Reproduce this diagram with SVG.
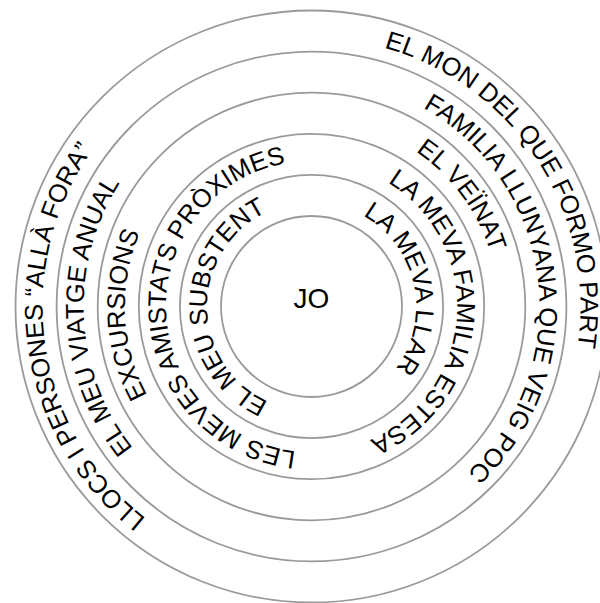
<svg xmlns="http://www.w3.org/2000/svg" xmlns:xlink="http://www.w3.org/1999/xlink" width="600" height="603" viewBox="0 0 600 603">
<style>
.ring{fill:none;stroke:#9a9a9a;stroke-width:1.8}
.lbl{font-family:"Liberation Sans",Arial,sans-serif;font-size:25.5px;fill:#000}
.jo{font-family:"Liberation Sans",Arial,sans-serif;font-size:28px;fill:#000}
</style>
<defs>
<path id="b1" d="M311.5,202 A104.5,104.5 0 1 1 311.5,411 A104.5,104.5 0 1 1 311.5,202"/>
<path id="b2" d="M311.5,160.9 A145.6,145.6 0 1 1 311.5,452.1 A145.6,145.6 0 1 1 311.5,160.9"/>
<path id="b3" d="M311.5,119.8 A186.7,186.7 0 1 1 311.5,493.2 A186.7,186.7 0 1 1 311.5,119.8"/>
<path id="b4" d="M311.5,78.7 A227.8,227.8 0 1 1 311.5,534.3 A227.8,227.8 0 1 1 311.5,78.7"/>
<path id="b5" d="M311.5,37.6 A268.9,268.9 0 1 1 311.5,575.4 A268.9,268.9 0 1 1 311.5,37.6"/>
</defs>
<g id="rings">
<circle class="ring" cx="311.5" cy="306.5" r="90.5"/>
<circle class="ring" cx="311.5" cy="306.5" r="131.6"/>
<circle class="ring" cx="311.5" cy="306.5" r="172.7"/>
<circle class="ring" cx="311.5" cy="306.5" r="213.8"/>
<circle class="ring" cx="311.5" cy="306.5" r="254.9"/>
<circle class="ring" cx="311.5" cy="306.5" r="296"/>
</g>
<g id="jo"><text class="jo" x="311.5" y="308.3" text-anchor="middle">JO</text></g>
<g id="band1">
<text class="lbl" text-anchor="middle"><textPath xlink:href="#b1" href="#b1" startOffset="74.86%">EL MEU SUBSTENT</textPath></text>
<text class="lbl" text-anchor="middle"><textPath xlink:href="#b1" href="#b1" startOffset="21.67%">LA MEVA LLAR</textPath></text>
</g>
<g id="band2">
<text class="lbl" text-anchor="middle"><textPath xlink:href="#b2" href="#b2" startOffset="74.44%">LES MEVES AMISTATS PRÒXIMES</textPath></text>
<text class="lbl" text-anchor="middle"><textPath xlink:href="#b2" href="#b2" startOffset="26.11%">LA MEVA FAMILIA ESTESA</textPath></text>
</g>
<g id="band3">
<text class="lbl" text-anchor="middle"><textPath xlink:href="#b3" href="#b3" startOffset="74.28%">EXCURSIONS</textPath></text>
<text class="lbl" text-anchor="middle"><textPath xlink:href="#b3" href="#b3" startOffset="14.86%">EL VEÏNAT</textPath></text>
</g>
<g id="band4">
<text class="lbl" text-anchor="middle"><textPath xlink:href="#b4" href="#b4" startOffset="74.22%">EL MEU VIATGE ANUAL</textPath></text>
<text class="lbl" text-anchor="middle"><textPath xlink:href="#b4" href="#b4" startOffset="23.08%">FAMILIA LLUNYANA QUE VEIG POC</textPath></text>
</g>
<g id="band5">
<text class="lbl" text-anchor="middle"><textPath xlink:href="#b5" href="#b5" startOffset="72.72%">LLOCS I PERSONES “ALLÀ FORA”</textPath></text>
<text class="lbl" text-anchor="middle"><textPath xlink:href="#b5" href="#b5" startOffset="15.89%">EL MON DEL QUE FORMO PART</textPath></text>
</g>
</svg>
